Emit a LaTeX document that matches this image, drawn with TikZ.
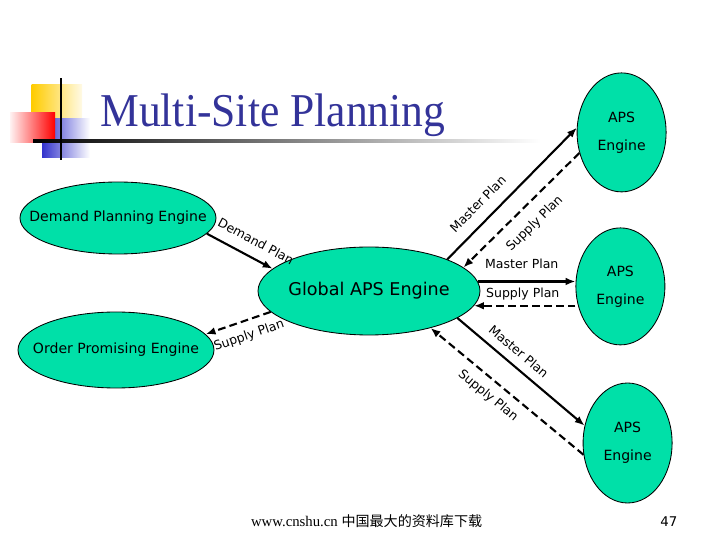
\documentclass[tikz,border=0pt]{standalone}
\usepackage{fontspec}
\setmainfont{Liberation Serif}
\setsansfont{DejaVu Sans}
\newfontfamily\cjk{Noto Sans CJK SC}
\usetikzlibrary{shapes.geometric,arrows.meta}
\definecolor{apsgreen}{RGB}{0,224,168}
\definecolor{titleblue}{RGB}{51,51,153}
\definecolor{decogold}{RGB}{255,204,0}
\definecolor{decoblue}{RGB}{51,51,204}

\begin{document}
\begin{tikzpicture}[
  eng/.style={ellipse, draw, line width=0.6pt, fill=apsgreen, inner sep=0pt},
  engtxt/.style={font=\sffamily\fontsize{10}{20}\selectfont, align=center},
  flow/.style={-{Latex[length=7pt, width=5.5pt]}, line width=1.5pt},
  back/.style={flow, dash pattern=on 5.5pt off 3pt},
  plan/.style={font=\sffamily\fontsize{8.9}{10}\selectfont, inner sep=0pt, sloped},
]
\useasboundingbox (0,0) rectangle (18,13.5);

% ====== Title and corner marks ======
\shade[left color=decogold, middle color=decogold, right color=decogold!10] (0.79,10.55) rectangle (2.05,11.375);
\shade[left color=decoblue, right color=white] (1.05,9.55) rectangle (2.25,10.525);
\shade[left color=red!5, right color=red] (0.25,9.925) rectangle (1.375,10.675);
\shade[left color=black, right color=white] (0.825,9.945) rectangle (13.5,10.015);
\fill[black] (1.49,9.5) rectangle (1.56,11.55);
\node[font=\fontsize{31}{36}\selectfont, text=titleblue, anchor=base west, inner sep=0pt] (title) at (2.5,10.325) {\scalebox{1}[1.08]{Multi-Site Planning}};

% ====== Engines ======
\node[eng, minimum width=4.9cm, minimum height=1.8cm, label={[engtxt]center:Demand Planning Engine}] (dem) at (2.95,8.05) {};
\node[eng, minimum width=4.9cm, minimum height=1.9cm, label={[engtxt]center:Order Promising Engine}] (ord) at (2.9,4.75) {};
\node[eng, minimum width=5.55cm, minimum height=2.2cm, label={[engtxt, font=\sffamily\fontsize{12.5}{15}\selectfont]center:Global APS Engine}] (glob) at (9.225,6.225) {};
\node[eng, minimum width=2.225cm, minimum height=2.975cm, label={[engtxt]center:APS\\Engine}] (apsT) at (15.54,10.19) {};
\node[eng, minimum width=2.225cm, minimum height=2.925cm, label={[engtxt]center:APS\\Engine}] (apsM) at (15.51,6.34) {};
\node[eng, minimum width=2.225cm, minimum height=3cm, label={[engtxt]center:APS\\Engine}] (apsB) at (15.69,2.425) {};

% ====== Plans ======
\draw[flow] (dem.-10) -- node[plan, pos=0.63, above=7.5pt] {Demand Plan} (glob.167);
\draw[back] (glob.192) -- node[plan, pos=0.41, below=6pt] {Supply Plan} (ord.10);
\draw[flow] (glob.22) -- node[plan, pos=0.33, above=8pt] {Master Plan} (apsT.174);
\draw[back] (apsT.206) -- node[plan, pos=0.5, below=8.5pt] {Supply Plan} (glob.14);
\draw[flow] (glob.5) -- node[plan, pos=0.45, above=8pt] {Master Plan} (glob.5 -| apsM.west);
\draw[back] (glob.-8 -| apsM.west) -- node[plan, pos=0.52, above=3pt] {Supply Plan} (glob.-8);
\draw[flow] (glob.-17) -- node[plan, pos=0.41, above=6pt] {Master Plan} (apsB.158);
\draw[back] (apsB.195) -- node[plan, pos=0.56, below=6pt] {Supply Plan} (glob.-31);

% ====== Footer ======
\node[anchor=base west, inner sep=0pt, font=\fontsize{10.5}{12}\selectfont] (src) at (6.27,0.325) {www.cnshu.cn {\cjk\fontsize{10}{12}\selectfont 中国最大的资料库下载}};
\node[anchor=base west, inner sep=0pt, font=\sffamily\fontsize{9.5}{10}\selectfont] (pg) at (16.5,0.325) {47};

\end{tikzpicture}
\end{document}
